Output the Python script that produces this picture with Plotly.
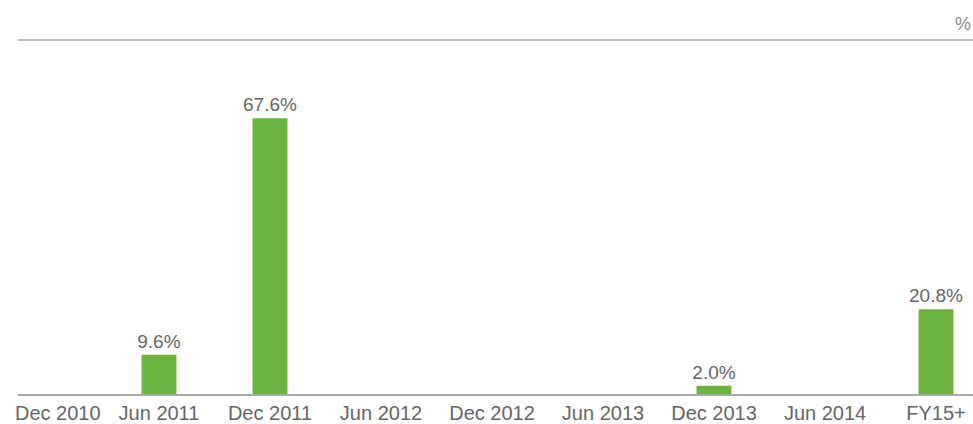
import plotly.graph_objects as go

periods = ["Dec 2010", "Jun 2011", "Dec 2011", "Jun 2012", "Dec 2012",
           "Jun 2013", "Dec 2013", "Jun 2014", "FY15+"]
shares = [0, 9.6, 67.6, 0, 0, 0, 2.0, 0, 20.8]
labels = [f"{v:.1f}%" if v > 0 else "" for v in shares]

GREEN = "#6cb33f"
TEXT = "#666666"
FONT = "Liberation Sans, Arial, sans-serif"

# the first period label is drawn as an annotation, nudged inward from the edge
tick_text = [""] + periods[1:]

fig = go.Figure(go.Bar(
    x=list(range(len(periods))),
    y=shares,
    text=labels,
    textposition="outside",
    constraintext="none",
    textfont=dict(family=FONT, size=19, color=TEXT),
    marker=dict(color=GREEN, line=dict(width=0)),
    width=0.315,
    cliponaxis=False,
    hoverinfo="skip",
))

fig.update_layout(
    width=973, height=424,
    margin=dict(l=18, r=0, t=40, b=30),
    paper_bgcolor="white", plot_bgcolor="white",
    showlegend=False,
    font=dict(family=FONT, size=19, color=TEXT),
    xaxis=dict(
        range=[-0.27, 8.333],
        tickmode="array",
        tickvals=list(range(len(periods))),
        ticktext=tick_text,
        showgrid=False, zeroline=False,
        showline=True, linecolor="#a9a9a9", linewidth=2,
        ticks="", tickfont=dict(family=FONT, size=20, color=TEXT),
    ),
    yaxis=dict(
        range=[0, 86.76],
        visible=False,
        showgrid=False, zeroline=False,
    ),
    shapes=[dict(
        type="line", xref="paper", yref="paper",
        x0=0, x1=1, y0=1, y1=1,
        line=dict(color="#bdbdbd", width=2),
    )],
    annotations=[
        dict(
            text="%", xref="paper", yref="paper",
            x=1, y=1, xanchor="right", yanchor="bottom", yshift=4,
            showarrow=False,
            font=dict(family=FONT, size=18, color="#8a8a8a"),
        ),
        dict(
            text=periods[0], xref="x", yref="paper",
            x=0, y=0, xanchor="center", yanchor="top",
            xshift=10, yshift=-6,
            showarrow=False,
            font=dict(family=FONT, size=20, color=TEXT),
        ),
    ],
)

fig.write_html("out.html")
